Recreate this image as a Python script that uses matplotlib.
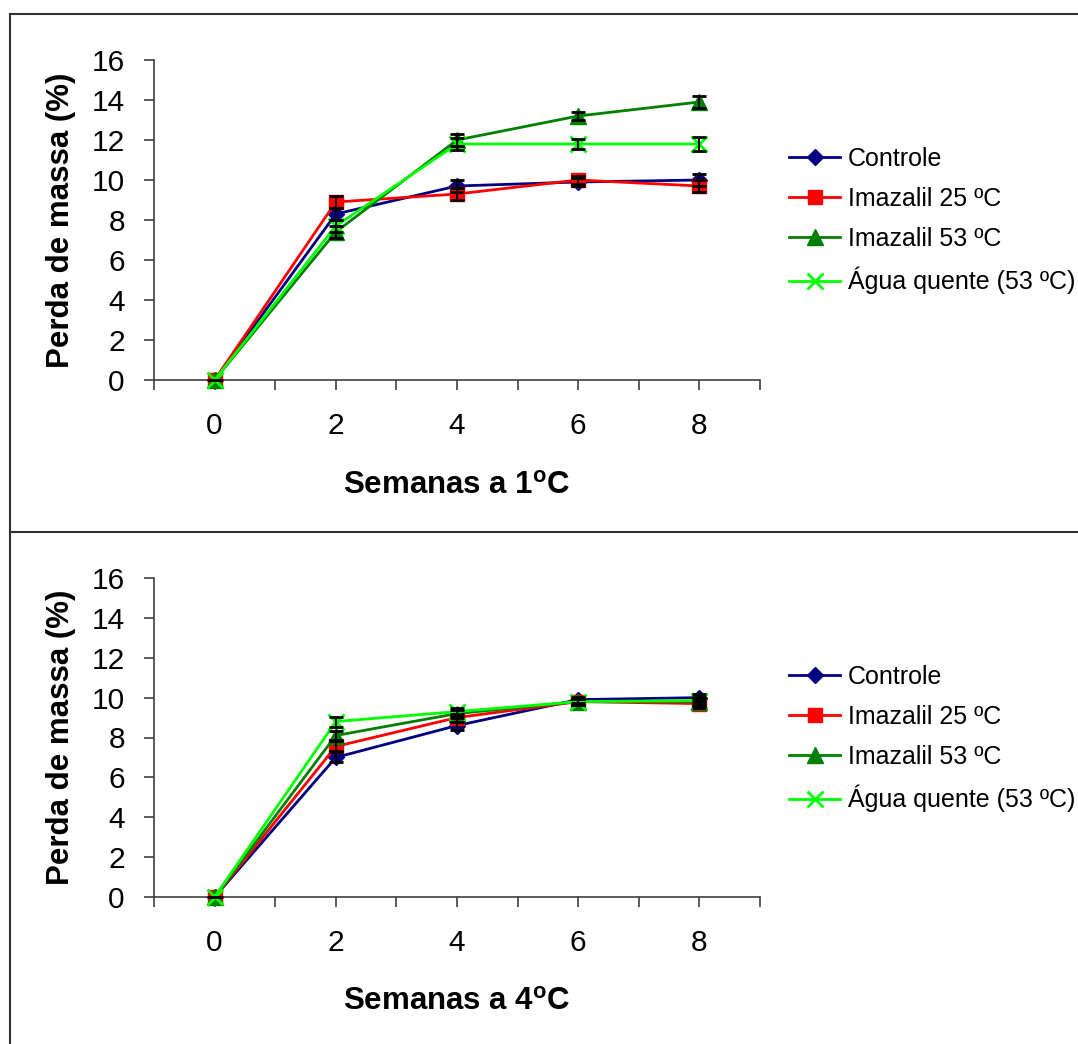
#!/usr/bin/env python

import numpy as np
from matplotlib import pyplot as plt
from matplotlib import ticker
from matplotlib.lines import Line2D

plt.rcParams["font.family"] = ["Liberation Sans", "DejaVu Sans"]
plt.rcParams["mathtext.fontset"] = "custom"
plt.rcParams["mathtext.rm"] = "Liberation Sans"
plt.rcParams["mathtext.bf"] = "Liberation Sans:bold"

weeks = [0, 2, 4, 6, 8]
series_names = ["Controle", "Imazalil 25 ºC", "Imazalil 53 ºC", "Água quente (53 ºC)"]
colors = ["#000080", "#ff0000", "#008000", "#00ff00"]
markers = ["D", "s", "^", "x"]
msizes = [8, 10, 11, 12]

# 1 C
controle_1 = [0, 8.3, 9.7, 9.9, 10.0]
imaz25_1 = [0, 8.9, 9.3, 10.0, 9.7]
imaz53_1 = [0, 7.4, 12.0, 13.2, 13.9]
agua_1 = [0, 7.7, 11.8, 11.8, 11.8]
err_controle_1 = [0, 0.3, 0.3, 0.2, 0.3]
err_imaz25_1 = [0, 0.3, 0.3, 0.2, 0.3]
err_imaz53_1 = [0, 0.3, 0.3, 0.2, 0.3]
err_agua_1 = [0, 0.3, 0.3, 0.25, 0.35]

# 4 C
controle_4 = [0, 7.0, 8.6, 9.9, 10.0]
imaz25_4 = [0, 7.55, 9.0, 9.8, 9.7]
imaz53_4 = [0, 8.1, 9.2, 9.8, 9.8]
agua_4 = [0, 8.8, 9.3, 9.8, 9.85]
err_controle_4 = [0, 0.25, 0.2, 0.15, 0.2]
err_imaz25_4 = [0, 0.25, 0.2, 0.15, 0.2]
err_imaz53_4 = [0, 0.25, 0.2, 0.15, 0.2]
err_agua_4 = [0, 0.25, 0.2, 0.15, 0.2]

W, H = 1078, 1044
fig = plt.figure(figsize=(W / 100, H / 100), dpi=100)

def fx(px):
    return px / W

def fy(py):
    return 1 - py / H

def panel(top, bottom, series, errors, xlabel):
    ax = fig.add_axes([fx(154), fy(bottom), fx(760 - 154), (bottom - top) / H])
    for vals, err, name, c, m, ms in zip(series, errors, series_names, colors, markers, msizes):
        ax.plot(weeks, vals, color=c, marker=m, markersize=ms, lw=2, label=name,
                markeredgewidth=2 if m == "x" else 1, clip_on=False, zorder=3)
        ax.errorbar(weeks, vals, yerr=err, fmt="none", ecolor="black", elinewidth=1.5,
                    capsize=5, capthick=2, zorder=4, clip_on=False)
    ax.set_xlim(-1, 9)
    ax.set_ylim(0, 16)
    ax.xaxis.set_major_locator(ticker.MultipleLocator(2))
    ax.xaxis.set_minor_locator(ticker.MultipleLocator(1))
    ax.yaxis.set_major_locator(ticker.MultipleLocator(2))
    for s in ["top", "right"]:
        ax.spines[s].set_visible(False)
    for s in ["left", "bottom"]:
        ax.spines[s].set_color("#404040")
        ax.spines[s].set_linewidth(1.2)
    ax.tick_params(axis="both", which="both", direction="out", length=7, width=1.2,
                   color="#404040", labelsize=21.5)
    ax.tick_params(axis="x", which="major", pad=16)
    ax.tick_params(axis="y", which="major", pad=14)
    ax.set_xlabel(xlabel, fontsize=22.5, fontweight="bold")
    ax.set_ylabel("Perda de massa (%)", fontsize=22.5, fontweight="bold")
    ax.yaxis.set_label_coords(-0.128, 0.5)
    ax.legend(loc="upper left", bbox_to_anchor=(fx(789), fy(top + 87)),
              bbox_transform=fig.transFigure, frameon=False, fontsize=18,
              handlelength=2.05, handletextpad=0.3, labelspacing=0.64,
              borderpad=0, borderaxespad=0)
    return ax

ax1 = panel(60, 380, [controle_1, imaz25_1, imaz53_1, agua_1],
            [err_controle_1, err_imaz25_1, err_imaz53_1, err_agua_1],
            r"Semanas a 1$^{\mathbf{o}}$C")
ax1.xaxis.set_label_coords(0.5, (380 - 471) / 320)
ax2 = panel(578, 897, [controle_4, imaz25_4, imaz53_4, agua_4],
            [err_controle_4, err_imaz25_4, err_imaz53_4, err_agua_4],
            r"Semanas a 4$^{\mathbf{o}}$C")
ax2.xaxis.set_label_coords(0.5, (897 - 987) / 319)

# outer frame lines
for line in [([fx(10), 1], [fy(14), fy(14)]),
             ([fx(10), 1], [fy(532), fy(532)]),
             ([fx(10), fx(10)], [fy(14), 0])]:
    fig.add_artist(Line2D(line[0], line[1], color="#303030", lw=1.5))

fig.savefig("out.png", dpi=100)
